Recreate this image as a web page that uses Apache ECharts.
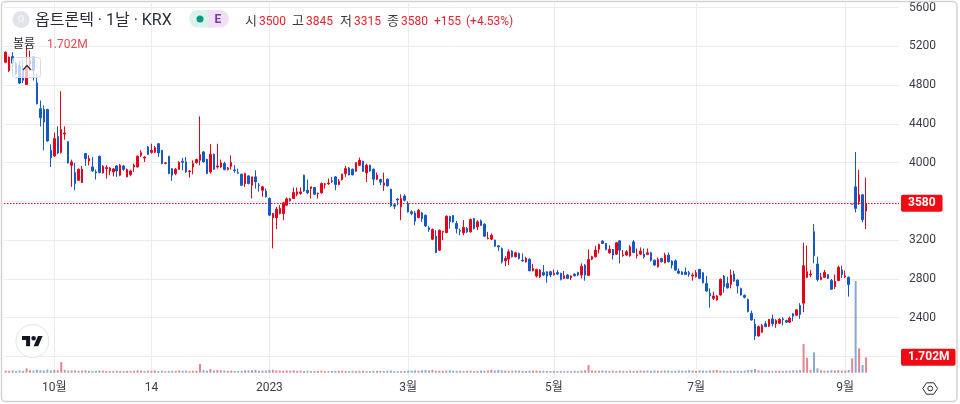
<!DOCTYPE html>
<html>
<head>
<meta charset="utf-8">
<style>
  html,body{margin:0;padding:0;background:#fff;}
  #echarts{width:960px;height:404px;}
</style>
</head>
<body>
<div id="echarts"></div>
<script src="https://cdn.jsdelivr.net/npm/echarts@6/dist/echarts.min.js"></script>
<script>
// candles, one value per trading day
var opens = [
  5036,4950,5094,5022,5001,4950,4806,5020,5087,4823,
  4556,4549,4549,4127,4069,4271,4106,4295,4216,3973,
  3897,3818,3794,4093,4017,3955,3904,4065,3894,3938,
  3914,3904,3966,3870,3966,3853,3877,3955,3955,4075,
  4048,4161,4106,4106,4195,4127,3993,4065,3938,3887,
  3931,4014,4007,3907,3955,4000,4024,4110,4034,3904,
  4086,3955,3955,3990,3928,3962,3925,3897,3880,3784,
  3863,3767,3853,3770,3715,3705,3630,3431,3431,3475,
  3475,3561,3606,3630,3674,3681,3870,3715,3732,3743,
  3678,3688,3774,3781,3812,3853,3774,3825,3887,3945,
  3931,3911,3973,4014,3894,3973,3931,3829,3825,3767,
  3829,3726,3565,3625,3543,3656,3577,3492,3481,3433,
  3481,3457,3327,3210,3241,3097,3283,3279,3447,3454,
  3372,3299,3275,3320,3286,3423,3337,3399,3365,3214,
  3210,3200,3142,3114,2987,3004,3087,3029,3063,2994,
  2977,3004,2884,2830,2823,2867,2874,2874,2843,2867,
  2857,2806,2840,2812,2850,2867,2840,2943,2836,3004,
  3029,3107,3190,3166,3070,3104,3056,3193,3042,3046,
  3039,3183,3042,3056,3056,3053,3070,2994,2926,3011,
  2967,3046,2984,2987,2881,2871,2871,2864,2830,2823,
  2898,2864,2754,2651,2600,2583,2634,2830,2754,2744,
  2850,2788,2703,2631,2589,2445,2332,2212,2251,2337,
  2313,2388,2337,2344,2388,2371,2354,2440,2426,2526,
  2550,2817,2841,3287,2954,2793,2817,2845,2783,2721,
  2783,2893,2821,2817,3570,3750,3596,3668,3500
];
var closes = [
  5139,5087,5025,4919,4820,4850,4984,5050,4950,4607,
  4463,4418,4223,4051,4247,4099,4340,4305,3997,4007,
  3784,3931,3931,4041,4041,3914,3894,3897,3962,3949,
  3945,3935,3914,3973,3931,3928,3914,3973,4065,4103,
  4058,4086,4127,4154,4099,3990,3997,3887,3870,3931,
  4003,4003,3904,3914,3990,4031,4082,4007,3887,4086,
  3931,3966,3997,3928,3945,4000,3918,3890,3767,3887,
  3784,3853,3801,3763,3750,3647,3458,3475,3520,3527,
  3585,3626,3626,3691,3698,3698,3708,3688,3750,3674,
  3685,3784,3781,3790,3805,3774,3808,3880,3938,3873,
  3873,4000,4024,3911,3973,3914,3829,3870,3798,3790,
  3760,3555,3550,3615,3629,3612,3492,3474,3396,3509,
  3423,3347,3310,3310,3073,3303,3290,3447,3389,3389,
  3320,3293,3330,3286,3413,3320,3389,3354,3241,3220,
  3251,3138,3131,2977,3011,3080,3029,3070,3011,2987,
  3011,2884,2908,2898,2891,2840,2830,2840,2857,2850,
  2795,2833,2806,2830,2833,2840,2932,2840,3001,3029,
  3097,3155,3166,3104,3104,3046,3173,3097,3049,3080,
  3131,3073,3049,3087,3029,3070,2994,2943,3001,2977,
  3046,2977,2943,2891,2860,2847,2847,2847,2840,2864,
  2806,2761,2675,2624,2624,2624,2795,2720,2709,2840,
  2778,2727,2634,2610,2463,2377,2212,2308,2320,2310,
  2382,2337,2371,2382,2380,2354,2395,2416,2481,2433,
  2937,2875,2851,3040,2793,2817,2869,2807,2694,2773,
  2920,2845,2831,2742,3572,3527,3668,3411,3580
];
var lows = [
  5025,4935,5010,4900,4810,4820,4800,4950,4847,4600,
  4374,4127,4215,3955,4060,4086,4093,4237,3990,3750,
  3715,3810,3790,3966,3973,3905,3825,3890,3887,3835,
  3870,3859,3853,3860,3914,3850,3859,3904,3950,4058,
  4007,4080,4093,4100,4058,3983,3983,3880,3811,3870,
  3925,3921,3895,3846,3880,3990,3973,4000,3880,3887,
  3925,3938,3945,3920,3920,3928,3894,3887,3760,3750,
  3775,3630,3732,3700,3647,3640,3450,3115,3314,3465,
  3407,3555,3600,3625,3654,3670,3698,3674,3630,3665,
  3630,3680,3732,3770,3790,3715,3765,3815,3853,3868,
  3870,3905,3965,3905,3801,3905,3767,3820,3767,3708,
  3755,3545,3520,3560,3406,3600,3485,3457,3354,3425,
  3389,3337,3286,3200,3065,3090,3200,3270,3320,3380,
  3269,3251,3251,3275,3278,3310,3303,3345,3235,3210,
  3200,3130,3090,2960,2932,2943,3020,3022,3000,2977,
  2970,2880,2878,2816,2810,2830,2761,2820,2836,2840,
  2785,2800,2798,2788,2825,2830,2806,2782,2830,2995,
  3020,3063,3160,3095,3060,3001,3050,2960,3028,3040,
  3030,3065,3011,3050,3011,3045,2977,2935,2918,2970,
  2960,2970,2908,2885,2850,2840,2840,2823,2782,2815,
  2800,2755,2668,2504,2583,2578,2628,2658,2700,2703,
  2770,2651,2628,2600,2455,2370,2171,2205,2245,2300,
  2305,2310,2296,2335,2320,2345,2345,2364,2420,2388,
  2457,2810,2817,2961,2776,2788,2810,2800,2688,2697,
  2777,2810,2810,2618,3570,3486,3565,3383,3315
];
var highs = [
  5145,5095,5139,5040,5050,5060,5207,5155,5090,4916,
  4641,4590,4555,4189,4309,4374,4737,4374,4220,4031,
  3997,3940,3966,4100,4075,4058,3928,4072,3973,3973,
  3955,3945,3973,3985,3973,3938,3928,3990,4075,4127,
  4065,4171,4195,4171,4200,4130,4007,4070,3940,3945,
  4014,4048,4058,3921,4024,4041,4477,4120,4040,4189,
  4093,4195,4031,4010,3955,4075,3973,3938,3885,3895,
  3870,3853,3921,3790,3760,3732,3640,3480,3544,3561,
  3595,3640,3635,3743,3743,3743,3875,3825,3750,3750,
  3690,3795,3790,3835,3853,3860,3830,3887,3966,3955,
  3940,4005,4051,4020,3990,3980,3940,3897,3835,3897,
  3835,3730,3580,3635,3673,3673,3601,3509,3502,3520,
  3492,3465,3344,3320,3303,3310,3296,3455,3447,3457,
  3399,3320,3406,3337,3423,3430,3406,3413,3375,3286,
  3269,3205,3149,3125,3035,3104,3097,3080,3073,3063,
  3029,3012,2953,2905,2900,2943,2880,2885,2898,2891,
  2865,2881,2850,2837,2858,2875,2960,2953,3104,3039,
  3142,3166,3200,3172,3149,3110,3183,3200,3097,3097,
  3149,3200,3114,3125,3114,3114,3080,3000,3022,3018,
  3070,3073,2992,3001,2908,2880,2919,2884,2864,2891,
  2905,2870,2830,2703,2668,2634,2805,2840,2823,2898,
  2884,2795,2710,2640,2598,2473,2387,2320,2337,2364,
  2388,2433,2385,2395,2405,2380,2412,2450,2490,2550,
  3174,3143,2893,3366,3030,2862,2893,2852,2800,2845,
  2937,2937,2886,2825,3572,4110,3925,3675,3845
];
// volume in thousands
var volumes = [
  230,210,250,200,240,210,480,270,230,320,
  260,240,340,250,290,280,1190,300,230,250,
  270,210,240,270,220,190,210,250,230,210,
  190,180,220,200,180,210,190,220,270,230,
  180,230,210,250,180,230,170,190,210,220,
  250,210,230,170,210,220,970,290,220,410,
  250,300,270,240,210,230,190,180,220,270,
  250,280,300,210,230,240,290,320,260,230,
  220,250,230,270,210,240,190,220,180,200,
  210,230,180,170,190,210,220,230,200,180,
  210,190,220,230,180,170,210,200,190,180,
  230,250,190,170,180,210,230,240,250,220,
  270,280,250,320,230,220,210,240,270,230,
  200,210,180,220,230,190,210,240,220,250,
  320,230,310,250,230,210,220,240,230,210,
  190,220,230,240,210,200,180,190,210,170,
  180,160,190,170,210,180,230,270,855,240,
  230,220,250,210,180,230,200,220,190,180,
  230,210,220,250,230,240,200,250,220,210,
  230,240,190,210,250,230,220,270,240,200,
  250,230,210,250,270,290,230,220,190,240,
  210,220,190,230,290,320,410,250,230,210,
  220,200,210,230,190,220,230,270,250,290,
  3180,1665,300,2260,480,270,220,230,270,250,
  270,230,250,300,1590,10180,2700,855,1702
];
var tickDates = ['2022-10-04','2022-11-14','2023-01-02','2023-03-02','2023-05-02','2023-07-03','2023-09-01'];
var tickLabels = ['10월','14','2023','3월','5월','7월','9월'];
var holidays = ['2022-10-03','2022-10-10','2022-12-30','2023-01-23','2023-01-24','2023-03-01','2023-05-01','2023-05-05','2023-05-29','2023-06-06','2023-08-15'];
var lastPrice = 3580;
var lastVolume = 1702;

// weekdays from the first bar, leaving room on the right of the last candle
var categories = [];
for (var t = Date.UTC(2022, 8, 13); categories.length < 258; t += 86400000) {
  var day = new Date(t), key = day.toISOString().slice(0, 10);
  if (day.getUTCDay() % 6 !== 0 && holidays.indexOf(key) < 0) categories.push(key);
}

var upColor = '#e60018';
var downColor = '#1559c8';
var gridColor = '#ececee';
var textColor = '#3a3d45';
var fontFamily = "Roboto, 'Noto Sans CJK KR', sans-serif";

var candleData = opens.map(function (o, i) { return [o, closes[i], lows[i], highs[i]]; });
var volumeData = volumes.map(function (v, i) {
  return { value: v, itemStyle: { color: closes[i] >= opens[i] ? '#e3858f' : '#88a8d4' } };
});

function txt(x, y, s, color, size, weight) {
  return {
    type: 'text', x: x, y: y, z: 50,
    style: { text: s, fill: color, fontSize: size || 13, fontFamily: fontFamily, fontWeight: weight || 'normal', textVerticalAlign: 'middle' }
  };
}

var myChart = echarts.init(document.getElementById('echarts'));
var gridBox = { left: 4, right: 61 };
var hiddenX = function (idx) {
  return { type: 'category', gridIndex: idx, data: categories, show: false };
};
var option = {
  animation: false,
  backgroundColor: '#fff',
  textStyle: { fontFamily: fontFamily },
  grid: [
    { left: gridBox.left, right: gridBox.right, top: 3, bottom: 26 },   // time axis, full height
    { left: gridBox.left, right: gridBox.right, top: 7.5, height: 349 },  // price
    { left: gridBox.left, right: gridBox.right, top: 281, height: 91.7 } // volume
  ],
  xAxis: [
    {
      type: 'category', gridIndex: 0, data: categories,
      axisLine: { show: false },
      axisTick: { show: false },
      axisLabel: {
        margin: 4, fontSize: 12, color: textColor, fontFamily: fontFamily,
        interval: function (i, v) { return tickDates.indexOf(v) >= 0; },
        formatter: function (v) { return tickLabels[tickDates.indexOf(v)] || ''; }
      },
      splitLine: {
        show: true, alignWithLabel: true,
        interval: function (i, v) { return tickDates.indexOf(v) >= 0; },
        lineStyle: { color: gridColor, width: 1 }
      }
    },
    hiddenX(1),
    hiddenX(2)
  ],
  yAxis: [
    { type: 'value', gridIndex: 0, show: false },
    {
      type: 'value', gridIndex: 1, position: 'right', min: 2000, max: 5600, interval: 400,
      axisLine: { show: false },
      axisTick: { show: false },
      axisLabel: {
        margin: 10, fontSize: 12, color: textColor, fontFamily: fontFamily, padding: [2, 0, 0, 0],
        // 3600 and 2000 sit under the two badges
        formatter: function (v) { return (v === 3600 || v === 2000) ? '' : String(v); }
      },
      splitLine: { lineStyle: { color: gridColor, width: 1 } }
    },
    { type: 'value', gridIndex: 2, show: false, min: 0, max: 10180 }
  ],
  series: [
    {
      name: '거래량', type: 'bar', xAxisIndex: 2, yAxisIndex: 2, data: volumeData,
      barWidth: 2, z: 2,
      markLine: {
        silent: true, symbol: 'none', animation: false,
        lineStyle: { color: 'transparent', width: 0 },
        label: {
          show: true, position: 'end', distance: 2, formatter: '1.702M',
          color: '#fff', fontSize: 12, fontWeight: 'bold', fontFamily: fontFamily,
          backgroundColor: '#f00a14', borderRadius: 2, padding: [3, 6, 2, 7], align: 'left'
        },
        data: [{ yAxis: lastVolume }]
      }
    },
    {
      name: '옵트론텍', type: 'candlestick', xAxisIndex: 1, yAxisIndex: 1, data: candleData,
      barWidth: 2, z: 3,
      itemStyle: {
        color: upColor, color0: downColor,
        borderColor: upColor, borderColor0: downColor, borderColorDoji: upColor,
        borderWidth: 1
      }
    },
    {
      // empty series that only carries the last price line
      name: '종가', type: 'line', xAxisIndex: 1, yAxisIndex: 1, data: [], z: 4,
      markLine: {
        silent: true, symbol: 'none', animation: false,
        lineStyle: { color: '#e60018', type: [1.5, 1.5], width: 1, opacity: 1 },
        label: {
          show: true, position: 'end', distance: 2, formatter: String(lastPrice),
          color: '#fff', fontSize: 12, fontWeight: 'bold', fontFamily: fontFamily,
          backgroundColor: '#f00a14', borderRadius: 2, padding: [3, 7, 2, 7], align: 'left'
        },
        data: [{ yAxis: lastPrice, lineStyle: { color: '#e60018', type: [1.5, 1.5], width: 1 } }]
      }
    }
  ],
  graphic: [
    // chart frame
    { type: 'rect', z: 40, shape: { x: 1.5, y: 1.5, width: 955.5, height: 400, r: 4 }, style: { fill: null, stroke: '#d2d2d2', lineWidth: 1.5 } },
    // symbol icon and title
    { type: 'circle', z: 50, shape: { cx: 21, cy: 19.5, r: 8.5 }, style: { fill: '#e0e3eb' } },
    txt(18, 20, 'O', '#f4f5f8', 9, 'bold'),
    txt(35, 21, '옵트론텍 · 1날 · KRX', '#2a2e39', 16),
    // market status pill
    { type: 'rect', z: 50, shape: { x: 189, y: 10, width: 22, height: 17.5, r: [9, 0, 0, 9] }, style: { fill: '#dcf0ec' } },
    { type: 'rect', z: 50, shape: { x: 208, y: 10, width: 21, height: 17.5, r: [0, 9, 9, 0] }, style: { fill: '#f0e0f6' } },
    { type: 'circle', z: 51, shape: { cx: 200, cy: 19, r: 3.5 }, style: { fill: '#089981' } },
    txt(214.5, 20, 'E', '#7b3a9e', 12, 'bold'),
    // ohlc
    txt(245, 21.5, '시', textColor, 13), txt(259, 21.5, '3500', '#e8222e', 12),
    txt(292, 21.5, '고', textColor, 13), txt(306, 21.5, '3845', '#e8222e', 12),
    txt(340, 21.5, '저', textColor, 13), txt(354, 21.5, '3315', '#e8222e', 12),
    txt(387, 21.5, '종', textColor, 13), txt(401, 21.5, '3580', '#e8222e', 12),
    txt(434, 21.5, '+155', '#e8222e', 12),
    txt(466, 21.5, '(+4.53%)', '#e8222e', 12),
    // volume legend
    txt(13, 45, '볼륨', '#2a2e39', 12),
    txt(47, 45, '1.702M', '#e44a56', 12),
    // collapse button over the first candles
    { type: 'rect', z: 45, shape: { x: 12.5, y: 57.5, width: 28, height: 20, r: 3 }, style: { fill: 'rgba(255,255,255,0.72)', stroke: '#cfdcee', lineWidth: 1 } },
    { type: 'polyline', z: 46, shape: { points: [[23, 70], [27, 65.5], [31, 70]] }, style: { fill: null, stroke: '#2a2e39', lineWidth: 1.2 } },
    // logo
    { type: 'circle', z: 45, shape: { cx: 32.5, cy: 341, r: 16.5 }, style: { fill: '#fff', stroke: '#e3e3e6', lineWidth: 1 } },
    { type: 'polygon', z: 46, x: 22, y: 333.6, scaleX: 0.58, scaleY: 0.58, shape: { points: [[14, 22], [7, 22], [7, 11], [0, 11], [0, 4], [14, 4]] }, style: { fill: '#131722' } },
    { type: 'polygon', z: 46, x: 22, y: 333.6, scaleX: 0.58, scaleY: 0.58, shape: { points: [[28, 22], [20, 22], [27.5, 4], [35.5, 4]] }, style: { fill: '#131722' } },
    { type: 'circle', z: 46, shape: { cx: 33.6, cy: 338.2, r: 2.3 }, style: { fill: '#131722' } },
    // settings icon
    { type: 'polygon', z: 46, shape: { points: [[922.8, 388.5], [926.5, 382.8], [933.8, 382.8], [937.5, 388.5], [933.8, 394.2], [926.5, 394.2]] }, style: { fill: null, stroke: '#2a2e39', lineWidth: 1 } },
    { type: 'circle', z: 46, shape: { cx: 930.2, cy: 388.5, r: 2.4 }, style: { fill: null, stroke: '#2a2e39', lineWidth: 1 } }
  ]
};
myChart.setOption(option);
</script>
</body>
</html>
